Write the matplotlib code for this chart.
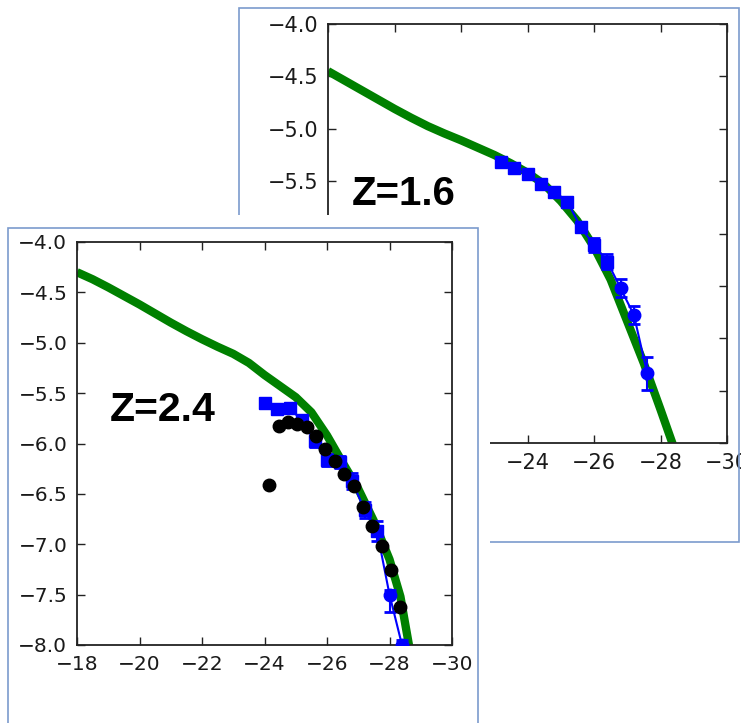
import matplotlib
matplotlib.use('Agg')
import matplotlib.pyplot as plt
from matplotlib.patches import Rectangle
import numpy as np

# ---------------- data: Z = 1.6 panel (back) ----------------
model16_x = [-18, -18.5, -19, -19.5, -20, -20.5, -21, -21.5, -22, -22.5, -23, -23.5, -24,
             -24.5, -25, -25.5, -26, -26.5, -27, -27.5, -28, -28.4]
model16_y = [-4.45, -4.54, -4.63, -4.72, -4.81, -4.895, -4.975, -5.045, -5.11, -5.18, -5.25,
             -5.33, -5.42, -5.53, -5.69, -5.88, -6.13, -6.44, -6.84, -7.24, -7.68, -8.04]
sq16_x = [-23.2, -23.6, -24.0, -24.4, -24.8, -25.2, -25.6, -26.0, -26.4]
sq16_y = [-5.315, -5.378, -5.435, -5.530, -5.600, -5.696, -5.940, -6.110, -6.269]
sq16_err = [0.03, 0.03, 0.03, 0.03, 0.04, 0.04, 0.05, 0.065, 0.07]
circ16_x = [-26.8, -27.2, -27.6]
circ16_y = [-6.523, -6.778, -7.335]
circ16_err = [0.085, 0.09, 0.16]

# ---------------- data: Z = 2.4 panel (front) ----------------
model24_x = [-18, -18.5, -19, -19.5, -20, -20.5, -21, -21.5, -22, -22.5, -23, -23.5, -24,
             -24.5, -25, -25.5, -26, -26.5, -27, -27.5, -28, -28.35, -28.65]
model24_y = [-4.30, -4.37, -4.45, -4.535, -4.62, -4.71, -4.80, -4.885, -4.965, -5.04, -5.11,
             -5.20, -5.32, -5.43, -5.54, -5.69, -5.92, -6.19, -6.45, -6.77, -7.15, -7.52, -8.05]
sq24_x = [-24.0, -24.4, -24.8, -25.2, -25.6, -26.0, -26.4, -26.8, -27.2, -27.6]
sq24_y = [-5.60, -5.66, -5.65, -5.77, -5.98, -6.16, -6.18, -6.37, -6.66, -6.87]
sq24_err = [0.05, 0.05, 0.05, 0.05, 0.05, 0.06, 0.06, 0.08, 0.08, 0.10]
circ24_x = [-28.0, -28.4]
circ24_y = [-7.50, -8.0]
circ24_err_lo = [0.17, 0.17]
circ24_err_hi = [0.05, 0.05]
black24_x = [-24.15, -24.45, -24.75, -25.05, -25.35, -25.65, -25.95, -26.25, -26.55, -26.85,
             -27.15, -27.45, -27.75, -28.05, -28.35]
black24_y = [-6.41, -5.83, -5.79, -5.81, -5.84, -5.93, -6.05, -6.17, -6.30, -6.42,
             -6.63, -6.82, -7.02, -7.26, -7.62]

x_ticks = [-18, -20, -22, -24, -26, -28, -30]
y_ticks = [-4.0, -4.5, -5.0, -5.5, -6.0, -6.5, -7.0, -7.5, -8.0]

W, H = 747, 723
fig = plt.figure(figsize=(W / 100, H / 100), dpi=100)
fig.patch.set_facecolor('white')


def ax_rect(left, top, right, bottom):
    return [left / W, 1 - bottom / H, (right - left) / W, (bottom - top) / H]


def fig_rect(x0, y0, x1, y1, **kw):
    r = Rectangle((x0 / W, 1 - y1 / H), (x1 - x0) / W, (y1 - y0) / H,
                  transform=fig.transFigure, **kw)
    fig.patches.append(r)
    return r


frame_col = '#7b9bcd'
green = (0, 0.5, 0)


def style(ax, labelsize):
    ax.set_xlim(-18, -30)
    ax.set_ylim(-8.0, -4.0)
    ax.set_xticks(x_ticks)
    ax.set_yticks(y_ticks)
    ax.set_yticklabels(['\u2212%.1f' % abs(v) for v in y_ticks])
    ax.set_xticklabels(['\u2212%d' % abs(v) for v in x_ticks])
    ax.tick_params(direction='in', top=True, right=True, length=6, width=1,
                   labelsize=labelsize, pad=7, color='#222222', labelcolor='#1a1a1a')
    for s in ax.spines.values():
        s.set_linewidth(1.3)
        s.set_color('#222222')


# ---------------- back panel ----------------
fig_rect(239, 8, 739, 542, fill=False, edgecolor=frame_col, lw=1.2, zorder=0.5)
ax1 = fig.add_axes(ax_rect(328, 24, 727, 443), zorder=0)
style(ax1, 15)
ax1.plot(model16_x, model16_y, color=green, lw=6, solid_capstyle='butt',
         solid_joinstyle='round', zorder=2)
ax1.plot(sq16_x + circ16_x, sq16_y + circ16_y, color='b', lw=1.5, zorder=3)
ax1.errorbar(sq16_x, sq16_y, yerr=sq16_err, fmt='s', color='b', ms=8.5, mec='b',
             ecolor='b', elinewidth=1.5, capsize=4.5, capthick=2, zorder=4)
ax1.errorbar(circ16_x, circ16_y, yerr=circ16_err, fmt='o', color='b', ms=9, mec='b',
             ecolor='b', elinewidth=1.5, capsize=4.5, capthick=2, zorder=4)
ax1.text(-18.72, -5.728, 'Z=1.6', fontsize=29, fontweight='bold',
         family='Liberation Sans', ha='left', va='baseline', zorder=6)

# cover pieces (front image covers back)
fig_rect(0, 215, 490, 723, facecolor='white', edgecolor='none', zorder=1)
fig_rect(741, 0, 747, 723, facecolor='white', edgecolor='none', zorder=1)

# ---------------- front panel ----------------
ax2 = fig.add_axes(ax_rect(77, 242, 452, 645), zorder=2)
style(ax2, 14.5)
ax2.plot(model24_x, model24_y, color=green, lw=6, solid_capstyle='butt',
         solid_joinstyle='round', zorder=2)
ax2.plot(sq24_x + circ24_x, sq24_y + circ24_y, color='b', lw=1.5, zorder=3)
ax2.errorbar(sq24_x, sq24_y, yerr=sq24_err, fmt='s', color='b', ms=8.5, mec='b',
             ecolor='b', elinewidth=1.5, capsize=4.5, capthick=2, zorder=4)
ax2.errorbar(circ24_x, circ24_y, yerr=[circ24_err_lo, circ24_err_hi], fmt='o', color='b',
             ms=9, mec='b', ecolor='b', elinewidth=1.5, capsize=4.5, capthick=2, zorder=4)
ax2.plot(black24_x, black24_y, 'o', color='k', ms=9, zorder=5)
ax2.text(-19.06, -5.78, 'Z=2.4', fontsize=29.5, fontweight='bold',
         family='Liberation Sans', ha='left', va='baseline', zorder=6)

# front frame (top, left, right)
fig_rect(8, 228, 478, 730, fill=False, edgecolor=frame_col, lw=1.2, zorder=3)

fig.savefig('out.png', dpi=100, facecolor='white')
